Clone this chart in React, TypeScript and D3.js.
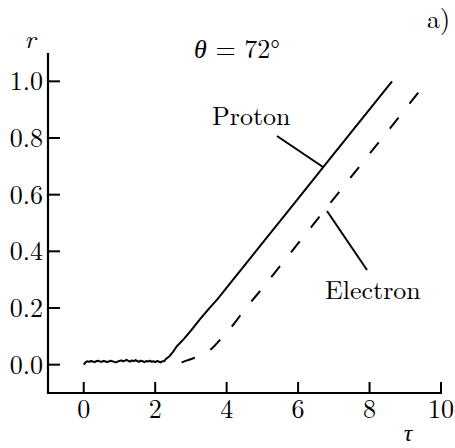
import React from "react";
import * as d3 from "d3";

// Flat, slightly noisy section of the proton curve (tau = 0 .. 2.2, step 0.05)
const protonFlat: number[] = [
  0.0, 0.008, 0.012, 0.01, 0.013, 0.011, 0.009, 0.012, 0.014, 0.011, 0.01,
  0.013, 0.012, 0.009, 0.011, 0.014, 0.012, 0.01, 0.008, 0.011, 0.013, 0.015,
  0.012, 0.014, 0.017, 0.013, 0.011, 0.015, 0.012, 0.016, 0.013, 0.01, 0.014,
  0.012, 0.009, 0.013, 0.011, 0.014, 0.01, 0.012, 0.009, 0.013, 0.011, 0.008,
  0.012,
];
const protonFlatStep = 0.05;

// Rising section of the proton curve
const protonRiseTau: number[] = [2.25, 2.3, 2.4, 2.5, 2.6, 2.8, 3.0, 3.25, 3.5, 3.75, 5.0, 6.0, 7.0, 8.0, 8.63];
const protonRiseR: number[] = [0.012, 0.02, 0.03, 0.045, 0.064, 0.09, 0.12, 0.16, 0.197, 0.232, 0.429, 0.586, 0.744, 0.901, 1.0];

// Electron curve
const electronTau: number[] = [2.74, 2.9, 3.05, 3.3, 3.47, 3.65, 3.81, 4.0, 4.15, 4.3, 4.45, 5.0, 6.0, 7.0, 8.0, 9.0, 9.36];
const electronR: number[] = [0.008, 0.015, 0.022, 0.032, 0.045, 0.065, 0.087, 0.11, 0.135, 0.16, 0.185, 0.27, 0.428, 0.586, 0.744, 0.902, 0.96];

const xTicks: number[] = [0, 2, 4, 6, 8, 10];
const yTicks: number[] = [0, 0.2, 0.4, 0.6, 0.8, 1.0];

const W = 455;
const H = 448;
const FONT = '"Latin Modern Roman", "CMU Serif", "Liberation Serif", serif';
const txt = { fontFamily: FONT };
const DASH = 14;

export default function App() {
  const x = d3.scaleLinear().domain([-1, 10]).range([48, 441]);
  const y = d3.scaleLinear().domain([-0.1, 1.1]).range([393, 53]);

  const protonPts: [number, number][] = [
    ...protonFlat.map((r, i) => [i * protonFlatStep, r] as [number, number]),
    ...protonRiseTau.map((t, i) => [t, protonRiseR[i]] as [number, number]),
  ];
  const electronPts: [number, number][] = electronTau.map((t, i) => [t, electronR[i]]);

  const line = d3
    .line<[number, number]>()
    .x((d) => x(d[0]))
    .y((d) => y(d[1]));
  const smooth = d3
    .line<[number, number]>()
    .x((d) => x(d[0]))
    .y((d) => y(d[1]))
    .curve(d3.curveMonotoneX);

  // dash period chosen so the dashed curve begins and ends with a dash
  let len = 0;
  for (let i = 1; i < electronPts.length; i++) {
    len += Math.hypot(
      x(electronPts[i][0]) - x(electronPts[i - 1][0]),
      y(electronPts[i][1]) - y(electronPts[i - 1][1])
    );
  }
  const n = Math.max(1, Math.round((len - DASH) / 33));
  const period = (len - DASH) / n;

  const x0 = x(-1);
  const yb = y(-0.1);

  return (
    <svg
      width={W}
      height={H}
      style={{ position: "absolute", left: 0, top: 0, background: "#fff" }}
    >
      {/* axes */}
      <line x1={x0} y1={y(1.1)} x2={x0} y2={yb + 1} stroke="#000" strokeWidth={2.2} />
      <line x1={x0 - 1} y1={yb} x2={x(10) + 1} y2={yb} stroke="#000" strokeWidth={2.2} />

      {yTicks.map((t) => (
        <g key={"y" + t}>
          <line x1={x0} x2={x0 + 12} y1={y(t)} y2={y(t)} stroke="#000" strokeWidth={2} />
          <text x={43} y={y(t) + 9} fontSize={26} textAnchor="end" style={txt}>
            {t.toFixed(1)}
          </text>
        </g>
      ))}
      {xTicks.map((t) => (
        <g key={"x" + t}>
          <line x1={x(t)} x2={x(t)} y1={yb} y2={yb - 11} stroke="#000" strokeWidth={2} />
          <text x={x(t)} y={418} fontSize={26} textAnchor="middle" style={txt}>
            {t}
          </text>
        </g>
      ))}

      {/* axis names */}
      <text x={30} y={48} fontSize={26} fontStyle="italic" textAnchor="middle" style={txt}>
        r
      </text>
      <text x={408} y={441} fontSize={24} fontStyle="italic" textAnchor="middle" style={txt}>
        τ
      </text>
      <text x={194} y={58} fontSize={26} style={txt}>
        <tspan fontStyle="italic">θ</tspan>
        <tspan> = 72°</tspan>
      </text>
      <text x={427} y={28} fontSize={26} style={txt}>
        a)
      </text>

      {/* curves */}
      <path d={line(protonPts) ?? ""} fill="none" stroke="#000" strokeWidth={2} strokeLinejoin="round" />
      <path
        d={smooth(electronPts) ?? ""}
        fill="none"
        stroke="#000"
        strokeWidth={2}
        strokeDasharray={`${DASH} ${period - DASH}`}
      />

      {/* labels with leader lines */}
      <text x={212} y={125} fontSize={26} style={txt}>
        Proton
      </text>
      <line x1={277} y1={136} x2={323} y2={167} stroke="#000" strokeWidth={2} />
      <text x={325} y={299} fontSize={26} style={txt}>
        Electron
      </text>
      <line x1={367} y1={270} x2={327} y2={211} stroke="#000" strokeWidth={2} />
    </svg>
  );
}
